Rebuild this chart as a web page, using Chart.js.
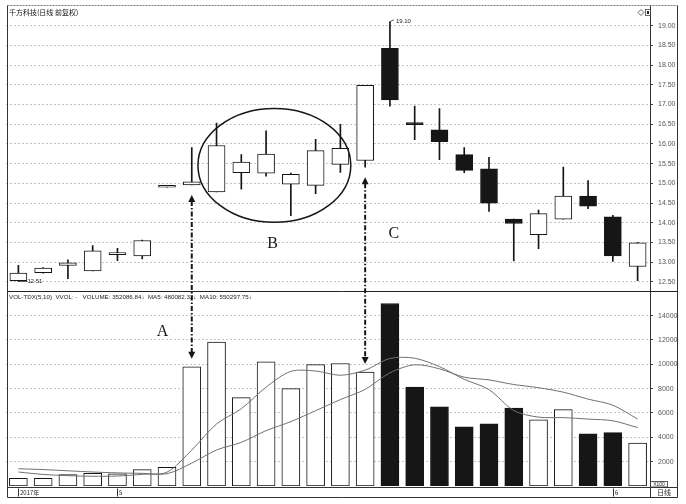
<!DOCTYPE html>
<html>
<head>
<meta charset="utf-8">
<script src="https://cdn.jsdelivr.net/npm/chart.js@4.4.1/dist/chart.umd.min.js"></script>
<style>
    body { margin: 0; background: #fff; }
    canvas { display: block; }
</style>
</head>
<body>
<canvas id="kline" width="686" height="504"></canvas>
<script>
let fechas = ['2017-04-25', '2017-04-26', '2017-04-27', '2017-04-28', '2017-05-02', '2017-05-03', '2017-05-04',
    '2017-05-05', '2017-05-08', '2017-05-09', '2017-05-10', '2017-05-11', '2017-05-12', '2017-05-15', '2017-05-16',
    '2017-05-17', '2017-05-18', '2017-05-19', '2017-05-22', '2017-05-23', '2017-05-24', '2017-05-25', '2017-05-26',
    '2017-05-31', '2017-06-01', '2017-06-02']
let apertura = [12.53, 12.73, 12.92, 12.78, 13.19, 13.16, 14.90, 14.96, 14.78, 15.27, 15.26, 14.98, 14.95,
    15.48, 15.58, 18.43, 16.51, 16.36, 15.73, 15.37, 14.09, 13.70, 14.09, 14.68, 14.15, 12.89]
let maximo = [12.92, 12.86, 13.06, 13.42, 13.35, 13.56, 14.90, 15.91, 16.53, 15.73, 16.33, 15.26, 16.12,
    16.50, 17.49, 19.10, 16.96, 16.90, 15.91, 15.66, 14.09, 14.32, 15.41, 15.07, 14.19, 13.50]
let minimo = [12.51, 12.72, 12.58, 12.78, 13.04, 13.08, 14.90, 14.96, 14.78, 14.85, 15.18, 14.18, 14.74,
    15.28, 15.41, 16.96, 16.11, 15.60, 15.27, 14.29, 13.03, 13.34, 14.09, 14.36, 13.02, 12.53]
let cierre = [12.72, 12.85, 12.98, 13.29, 13.19, 13.55, 14.90, 15.04, 15.96, 15.54, 15.74, 15.23, 15.83,
    15.89, 17.49, 17.12, 16.49, 16.06, 15.33, 14.50, 13.98, 14.23, 14.68, 14.42, 13.16, 13.49]
// volumen en x100
let volumen = [640, 640, 940, 1040, 1000, 1350, 1540, 9800, 11820, 7260, 10210, 8000, 9970,
    10070, 9360, 15000, 8130, 6500, 4860, 5100, 6410, 5430, 6280, 4290, 4390, 3520]
let ma5 = [1150, 950, 850, 800, 820, 960, 1140, 2950, 5100, 6350, 8120, 9420, 9450,
    9100, 9520, 10480, 10500, 9810, 8770, 7920, 6200, 5660, 5620, 5500, 5360, 4800]
let ma10 = [1420, 1350, 1250, 1150, 1080, 1040, 1010, 1880, 2960, 3590, 4550, 5290, 6190,
    7100, 7940, 9300, 9960, 9630, 8940, 8720, 8340, 8080, 7710, 7140, 6640, 5500]
let ticksPrecio = [12.5, 13, 13.5, 14, 14.5, 15, 15.5, 16, 16.5, 17, 17.5, 18, 18.5, 19]
let ticksVolumen = [2000, 4000, 6000, 8000, 10000, 12000, 14000]

let titulo = '千方科技(日线 前复权)'
let cabeceraVol = 'VOL-TDX(5,10)  VVOL: -   VOLUME: 352086.84\u2193  MA5: 480082.32\u2193  MA10: 550297.75\u2193'

const negro = '#161616'
let sube = apertura.map((o, i) => cierre[i] >= o)

function dibujarFlecha(ctx, xp, yArriba, yAbajo) {
    ctx.save()
    ctx.strokeStyle = negro
    ctx.fillStyle = negro
    ctx.lineWidth = 2
    ctx.setLineDash([5, 2, 1.5, 2])
    ctx.beginPath()
    ctx.moveTo(xp, yArriba + 6)
    ctx.lineTo(xp, yAbajo - 6)
    ctx.stroke()
    ctx.setLineDash([])
    ctx.beginPath()
    ctx.moveTo(xp, yArriba)
    ctx.lineTo(xp - 3.5, yArriba + 7)
    ctx.lineTo(xp + 3.5, yArriba + 7)
    ctx.closePath()
    ctx.fill()
    ctx.beginPath()
    ctx.moveTo(xp, yAbajo)
    ctx.lineTo(xp - 3.5, yAbajo - 7)
    ctx.lineTo(xp + 3.5, yAbajo - 7)
    ctx.closePath()
    ctx.fill()
    ctx.restore()
}

function linea(ctx, x1, y1, x2, y2, color, ancho, dash) {
    ctx.save()
    ctx.strokeStyle = color
    ctx.lineWidth = ancho || 1
    ctx.setLineDash(dash || [])
    ctx.beginPath()
    ctx.moveTo(x1, y1)
    ctx.lineTo(x2, y2)
    ctx.stroke()
    ctx.restore()
}

const anotaciones = {
    id: 'anotaciones',
    afterDraw(chart) {
        const ctx = chart.ctx
        const x = chart.scales.x
        const y = chart.scales.y
        const yv = chart.scales.yv
        const izq = 7.5, der = 677.5, eje = Math.round(y.left) + 0.5
        const sep = Math.round(yv.top) + 0.5
        const fondo = Math.round(yv.bottom) + 1.5

        // marco
        linea(ctx, izq, 5.5, der, 5.5, '#777', 1, [2, 1])
        linea(ctx, izq, 5.5, izq, 497.5, '#333')
        linea(ctx, der, 5.5, der, 497.5, '#333')
        linea(ctx, eje, 5.5, eje, 497.5, '#333')
        linea(ctx, izq, sep, der, sep, '#222')
        linea(ctx, izq, fondo, der, fondo, '#333')
        linea(ctx, izq, 497.5, der, 497.5, '#333')

        ctx.save()
        ctx.fillStyle = '#111'
        ctx.textBaseline = 'middle'
        ctx.font = '7px "Noto Sans CJK SC"'
        ctx.fillText(titulo, 9, 12)
        ctx.fillStyle = '#222'
        ctx.font = '6.2px "Liberation Sans"'
        ctx.fillText(cabeceraVol, 9, 297)

        // iconos arriba a la derecha
        ctx.strokeStyle = '#444'
        ctx.lineWidth = 0.8
        ctx.beginPath()
        ctx.moveTo(638, 12.5); ctx.lineTo(641, 9.5); ctx.lineTo(644, 12.5); ctx.lineTo(641, 15.5); ctx.closePath()
        ctx.stroke()
        ctx.strokeRect(645.5, 9.5, 5, 6)
        ctx.fillRect(647, 11, 2, 3)

        // franja de fechas
        ctx.font = '6px "Noto Sans CJK SC"'
        let mesAnterior = ''
        fechas.forEach((f, i) => {
            let mes = f.slice(5, 7)
            let txt = ''
            if (i === 0) txt = f.slice(0, 4) + '年'
            else if (mes !== mesAnterior) txt = String(parseInt(mes))
            mesAnterior = mes
            if (!txt) return
            let cx = Math.round(x.getPixelForValue(i)) + 0.5
            linea(ctx, cx, fondo + 1, cx, 496.5, '#333')
            ctx.fillStyle = '#222'
            ctx.fillText(txt, cx + 1.5, 492.5)
        })
        ctx.font = '7px "Noto Sans CJK SC"'
        ctx.textAlign = 'center'
        ctx.fillText('日线', 664, 492.5)
        ctx.font = '5px "Liberation Sans"'
        ctx.strokeStyle = '#333'
        ctx.strokeRect(eje, 481.5, 17, 5.5)
        ctx.fillText('X100', eje + 8.5, 484.5)

        // maximo y minimo
        let iMax = maximo.indexOf(Math.max(...maximo))
        let iMin = minimo.indexOf(Math.min(...minimo))
        ctx.textAlign = 'left'
        ctx.font = '6px "Liberation Sans"'
        let hx = x.getPixelForValue(iMax), hy = y.getPixelForValue(maximo[iMax])
        linea(ctx, hx, hy, hx + 4, hy - 2, '#333', 0.8)
        ctx.fillText(maximo[iMax].toFixed(2), hx + 6, hy - 0.5)
        let lx = x.getPixelForValue(iMin), ly = y.getPixelForValue(minimo[iMin])
        linea(ctx, lx, ly, lx + 9, ly, '#333', 0.8)
        ctx.fillText(minimo[iMin].toFixed(2), lx + 9, ly)

        // elipse B
        let ex1 = x.getPixelForValue(7.25), ex2 = x.getPixelForValue(13.42)
        let ey1 = y.getPixelForValue(16.9), ey2 = y.getPixelForValue(14.01)
        ctx.strokeStyle = negro
        ctx.lineWidth = 1.5
        ctx.beginPath()
        ctx.ellipse((ex1 + ex2) / 2, (ey1 + ey2) / 2, (ex2 - ex1) / 2, (ey2 - ey1) / 2, 0, 0, Math.PI * 2)
        ctx.stroke()

        // letras
        ctx.fillStyle = negro
        ctx.textAlign = 'center'
        ctx.font = '16px "Liberation Serif"'
        ctx.fillText('A', x.getPixelForValue(5.82), yv.getPixelForValue(12700))
        ctx.fillText('B', x.getPixelForValue(10.26), y.getPixelForValue(13.46))
        ctx.fillText('C', x.getPixelForValue(15.16), y.getPixelForValue(13.71))
        ctx.restore()

        // flechas entre vela y volumen
        ;[7, 14].forEach(i => {
            let xp = x.getPixelForValue(i)
            dibujarFlecha(ctx, xp, y.getPixelForValue(minimo[i]) + 10, yv.getPixelForValue(volumen[i]) - 8)
        })
    }
}

const KLine = document.getElementById('kline')

let ejeY = (ticks, min, max, peso, formato) => ({
    position: 'right',
    stack: 'panel',
    stackWeight: peso,
    min: min,
    max: max,
    beginAtZero: false,
    afterBuildTicks: (s) => { s.ticks = ticks.map(v => ({ value: v })) },
    afterFit: (s) => { s.width = 28 },
    grid: { color: '#c4c4c4', tickColor: '#444', tickLength: 3 },
    border: { display: true, color: '#333', dash: [2, 2] },
    ticks: {
        autoSkip: false,
        color: '#555',
        padding: 5,
        font: { size: 7, family: 'Liberation Sans' },
        callback: formato
    }
})

var grafico = new Chart(KLine, {
    type: 'bar',
    data: {
        labels: fechas,
        datasets: [
            {
                label: 'MA5',
                type: 'line',
                yAxisID: 'yv',
                data: ma5,
                borderColor: '#707070',
                borderWidth: 1,
                pointRadius: 0,
                tension: 0.3,
                order: 0
            },
            {
                label: 'MA10',
                type: 'line',
                yAxisID: 'yv',
                data: ma10,
                borderColor: '#707070',
                borderWidth: 1,
                pointRadius: 0,
                tension: 0.3,
                order: 0
            },
            {
                label: 'cuerpo',
                yAxisID: 'y',
                grouped: false,
                data: apertura.map((o, i) => [o, cierre[i]]),
                backgroundColor: sube.map(s => s ? '#fff' : negro),
                borderColor: negro,
                borderWidth: 1,
                borderSkipped: false,
                minBarLength: 2,
                barThickness: 17,
                order: 1
            },
            {
                label: 'mecha',
                yAxisID: 'y',
                grouped: false,
                data: minimo.map((l, i) => [l, maximo[i]]),
                backgroundColor: negro,
                barThickness: 1,
                order: 2
            },
            {
                label: 'volumen',
                yAxisID: 'yv',
                grouped: false,
                data: volumen,
                backgroundColor: sube.map(s => s ? '#fff' : negro),
                borderColor: negro,
                borderWidth: 1,
                borderSkipped: false,
                barThickness: 18,
                order: 2
            }
        ]
    },
    options: {
        responsive: false,
        animation: false,
        devicePixelRatio: 1,
        layout: { padding: { left: 6, right: 8, top: 6, bottom: 18 } },
        plugins: {
            legend: { display: false },
            tooltip: { enabled: false }
        },
        scales: {
            x: { display: false, offset: true },
            y: ejeY(ticksPrecio, 12.26, 19.42, 284, v => v.toFixed(2)),
            yv: ejeY(ticksVolumen, 0, 16000, 196, v => String(v))
        }
    },
    plugins: [anotaciones]
})
</script>
</body>
</html>
